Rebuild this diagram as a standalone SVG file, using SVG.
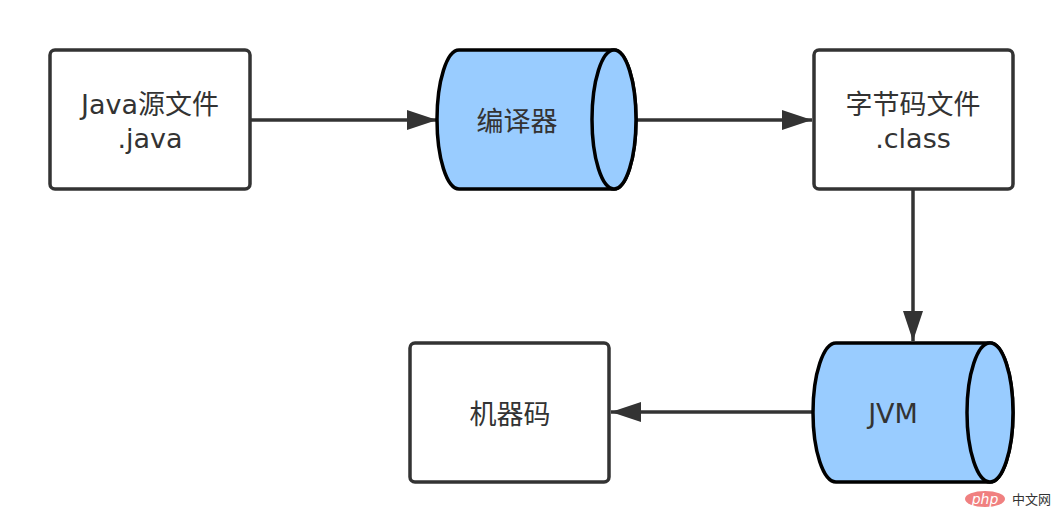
<svg xmlns="http://www.w3.org/2000/svg" width="1064" height="532" viewBox="0 0 1064 532">
<defs>
<style>
.box{fill:#ffffff;stroke:#333333;stroke-width:3.5}
.cyl{fill:#99ccff;stroke:#000000;stroke-width:3.5}
.lbl{font-family:"DejaVu Sans","Noto Sans CJK SC",sans-serif;font-size:27px;fill:#333333;text-anchor:middle}
.edge{stroke:#333333;stroke-width:3.5;fill:none}
</style>
<marker id="arr" viewBox="0 0 30 20" refX="30" refY="10" markerWidth="30" markerHeight="20" markerUnits="userSpaceOnUse" orient="auto">
<path d="M0,0 L30,10 L0,20 Z" fill="#333333"/>
</marker>
</defs>
<rect width="1064" height="532" fill="#ffffff"/>
<g id="connectors">
<line class="edge" x1="251" y1="120" x2="437" y2="120" marker-end="url(#arr)"/>
<line class="edge" x1="636" y1="120" x2="812" y2="120" marker-end="url(#arr)"/>
<line class="edge" x1="913" y1="190" x2="913" y2="341" marker-end="url(#arr)"/>
<line class="edge" x1="813" y1="412" x2="611" y2="412" marker-end="url(#arr)"/>
</g>
<g id="java-source">
<rect class="box" x="50" y="50" width="200" height="139" rx="5"/>
<text class="lbl" x="150" y="114">Java源文件</text>
<text class="lbl" x="150" y="148">.java</text>
</g>
<g id="compiler">
<path class="cyl" d="M459,50 L614,50 A22,69.5 0 0 1 614,189 L459,189 A22,69.5 0 0 1 459,50 Z"/>
<ellipse class="cyl" cx="614" cy="119.5" rx="22" ry="69.5"/>
<text class="lbl" x="517" y="131">编译器</text>
</g>
<g id="bytecode">
<rect class="box" x="814" y="50" width="199" height="139" rx="5"/>
<text class="lbl" x="913" y="114">字节码文件</text>
<text class="lbl" x="913" y="148">.class</text>
</g>
<g id="jvm">
<path class="cyl" d="M836,343 L990,343 A23,69.5 0 0 1 990,482 L836,482 A23,69.5 0 0 1 836,343 Z"/>
<ellipse class="cyl" cx="990" cy="412.5" rx="23" ry="69.5"/>
<text class="lbl" x="893" y="423">JVM</text>
</g>
<g id="machine-code">
<rect class="box" x="410" y="343" width="199" height="139" rx="5"/>
<text class="lbl" x="510" y="424">机器码</text>
</g>
<g id="watermark">
<ellipse cx="985" cy="499" rx="20" ry="8" fill="#f08080"/>
<text x="985" y="504" font-family="'DejaVu Sans',sans-serif" font-size="14" font-style="italic" fill="#ffffff" text-anchor="middle">php</text>
<text x="1012" y="504" font-family="'Noto Sans CJK SC',sans-serif" font-size="13" fill="#333333">中文网</text>
</g>
</svg>
